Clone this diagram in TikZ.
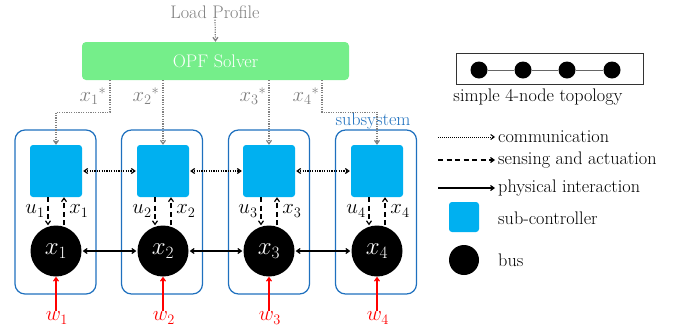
\documentclass[tikz,border=0pt]{standalone}
\usetikzlibrary{arrows.meta}
\definecolor{opfgreen}{RGB}{117,238,138}
\definecolor{ctrlblue}{RGB}{0,176,240}
\definecolor{subblue}{RGB}{30,112,190}
\definecolor{commgray}{RGB}{128,128,128}
\begin{document}
\begin{tikzpicture}[x=1pt,y=-1pt,
  txt/.style={font=\fontsize{18.2}{21}\selectfont, inner sep=1pt},
  mlab/.style={font=\fontsize{21}{25}\selectfont, inner sep=1pt},
  blab/.style={font=\fontsize{26}{30}\selectfont, text=white},
  subsys/.style={draw=subblue, line width=1.2pt, rounded corners=10pt, minimum width=81pt, minimum height=164pt, inner sep=0pt},
  ctrl/.style={fill=ctrlblue, rounded corners=3pt, minimum size=52pt, inner sep=0pt},
  busnode/.style={circle, fill=black, minimum size=51pt, inner sep=0pt},
  tip/.style={-{Straight Barb[length=3.5pt,width=5pt]}},
  bitip/.style={{Straight Barb[length=3.5pt,width=5pt]}-{Straight Barb[length=3.5pt,width=5pt]}},
  comm/.style={line width=1.2pt, dash pattern=on 1.2pt off 1.2pt},
  sense/.style={line width=1.2pt, dash pattern=on 5pt off 3.5pt},
  phys/.style={line width=1.2pt},
]
\useasboundingbox (0,0) rectangle (677,330);

% OPF solver and load profile
\node[txt, text=commgray] (load) at (215,12) {Load Profile};
\node[fill=opfgreen, rounded corners=4pt, minimum width=267pt, minimum height=38pt, inner sep=0pt, txt, text=white] (opf) at (215.5,61) {OPF Solver};
\draw[comm, tip, commgray] (load.south) -- (opf.north);

% subsystems
\foreach \i/\x in {1/55.5,2/162,3/269,4/376}{
  \node[subsys] (s\i) at (\x,212) {};
}
\foreach \i/\x in {1/56,2/163,3/269,4/377}{
  \node[ctrl] (c\i) at (\x,171) {};
  \node[busnode] (b\i) at (\x,251) {};
  \node[blab] (bl\i) at (b\i) {$x_{\i}$};
  \draw[sense, tip] ([xshift=-8pt]c\i.south) -- ([xshift=-8pt]b\i.north);
  \draw[sense, tip] ([xshift=8pt]b\i.north) -- ([xshift=8pt]c\i.south);
  \node[mlab] (u\i) at (\x-21,211) {$u_{\i}$};
  \node[mlab] (xs\i) at (\x+23,211) {$x_{\i}$};
  \node[mlab, text=red] (w\i) at (\x+1,318) {$w_{\i}$};
  \draw[phys, tip, red] (b\i.south |- w\i.north) -- (b\i.south);
}
\node[txt, text=subblue] (subl) at (373,121) {subsystem};

% links between controllers and buses
\foreach \a/\b in {1/2,2/3,3/4}{
  \draw[comm, bitip] ([xshift=1pt]c\a.east) -- ([xshift=-1pt]c\b.west);
  \draw[phys, bitip] ([xshift=1pt]b\a.east) -- ([xshift=-1pt]b\b.west);
}

% OPF to controllers
\draw[comm, tip, commgray] ([xshift=-105.5pt]opf.south) -- ++(0,32) -| (c1.north);
\draw[comm, tip, commgray] ([xshift=-52.5pt]opf.south) -- (c2.north);
\draw[comm, tip, commgray] ([xshift=53.5pt]opf.south) -- (c3.north);
\draw[comm, tip, commgray] ([xshift=106.5pt]opf.south) -- ++(0,32) -| (c4.north);
\node[mlab, text=commgray] (xo1) at (93,96) {$x_1{}^*$};
\node[mlab, text=commgray] (xo2) at (146,96) {$x_2{}^*$};
\node[mlab, text=commgray] (xo3) at (253,96) {$x_3{}^*$};
\node[mlab, text=commgray] (xo4) at (306,96) {$x_4{}^*$};

% topology legend
\node[draw=black!80, line width=0.8pt, minimum width=187pt, minimum height=31pt, inner sep=0pt] (topo) at (549.5,68.5) {};
\foreach \i/\x in {1/479,2/523,3/567,4/612}{
  \node[circle, fill=black, minimum size=17pt, inner sep=0pt] (t\i) at (\x,70) {};
}
\draw[line width=1pt, black!60] (t1) -- (t2) (t2) -- (t3) (t3) -- (t4);
\node[txt] (topol) at (538,97) {simple 4-node topology};

% legend
\coordinate (ls1) at (438,137);
\coordinate (ls2) at (438,160);
\coordinate (ls3) at (438,188);
\node[txt, anchor=west] (lt1) at (497,137) {communication};
\node[txt, anchor=west] (lt2) at (497,160) {sensing and actuation};
\node[txt, anchor=west] (lt3) at (497,188) {physical interaction};
\draw[comm, tip, line width=1pt, dash pattern=on 1pt off 1pt, shorten >=2pt] (ls1) -- (lt1.west);
\draw[sense, tip, shorten >=2pt] (ls2) -- (lt2.west);
\draw[phys, tip, shorten >=2pt] (ls3) -- (lt3.west);
\node[ctrl, minimum size=30pt] (lc) at (464,217) {};
\node[txt, anchor=west] (lt4) at (497,218) {sub-controller};
\node[busnode, minimum size=30pt] (lb) at (464,260) {};
\node[txt, anchor=west] (lt5) at (497,260) {bus};
\end{tikzpicture}
\end{document}
